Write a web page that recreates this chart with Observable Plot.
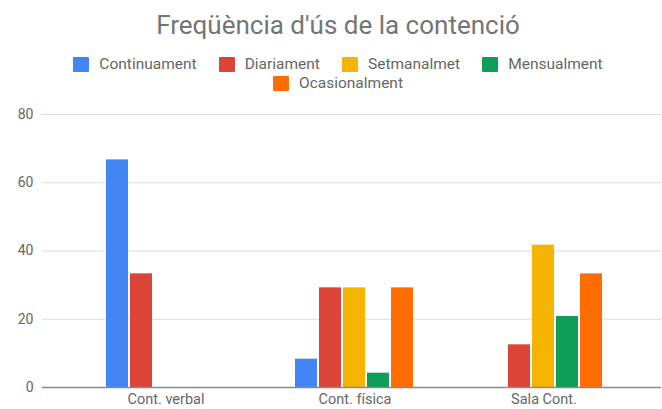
<!DOCTYPE html>
<html>
<head>
<meta charset="utf-8">
<script src="https://cdn.jsdelivr.net/npm/d3@7"></script>
<script src="https://cdn.jsdelivr.net/npm/@observablehq/plot@0.6"></script>
<style>
  html, body { margin: 0; padding: 0; background: #fff; }
  #wrap { position: relative; width: 662px; height: 409px; overflow: hidden; font-family: Roboto, "Noto Sans", sans-serif; }
  #title { position: absolute; top: 9px; left: 14px; width: 648px; text-align: center; font-size: 26px; color: #757575; line-height: 32px; }
  #legend { position: absolute; top: 56px; left: 48px; width: 580px; display: flex; flex-wrap: wrap; justify-content: center; column-gap: 22px; row-gap: 3px; font-size: 15.5px; color: #666; }
  .item { display: flex; align-items: center; height: 16px; }
  .sw { width: 16px; height: 15px; margin-right: 10px; border-radius: 1px; }
  #chart { position: absolute; top: 100px; left: 0; }
</style>
</head>
<body>
<div id="wrap">
  <div id="title">Freqüència d'ús de la contenció</div>
  <div id="legend"></div>
  <div id="chart"></div>
</div>
<script>
const groups = ["Cont. verbal", "Cont. física", "Sala Cont."];
const series = ["Continuament", "Diariament", "Setmanalmet", "Mensualment", "Ocasionalment"];
const colors = ["#4285F4", "#DB4437", "#F4B400", "#0F9D58", "#FF6D00"];
const continuament = [66.7, 8.3, 0];
const diariament = [33.3, 29.2, 12.5];
const setmanalmet = [0, 29.2, 41.7];
const mensualment = [0, 4.2, 20.8];
const ocasionalment = [0, 29.2, 33.3];
const yTicks = [0, 20, 40, 60, 80];

const seriesValues = [continuament, diariament, setmanalmet, mensualment, ocasionalment];
const data = [];
groups.forEach((g, gi) => series.forEach((s, si) => data.push({group: g, series: s, value: seriesValues[si][gi]})));

const legend = document.getElementById("legend");
series.forEach((s, i) => {
  const it = document.createElement("div");
  it.className = "item";
  it.innerHTML = `<span class="sw" style="background:${colors[i]}"></span><span>${s}</span>`;
  legend.appendChild(it);
});

// grid and baseline rules per facet; outer facets extend to the chart-area edges
const ruleMarks = [];
groups.forEach((g, gi) => {
  const insets = {
    insetLeft: gi === 0 ? -29 : 0,
    insetRight: gi === groups.length - 1 ? -23 : 0
  };
  ruleMarks.push(
    Plot.ruleY(yTicks.filter(d => d > 0).map(y => ({y, group: g})), {y: "y", fx: "group", stroke: "#dcdcdc", ...insets})
  );
});
const baseMarks = groups.map((g, gi) =>
  Plot.ruleY([{y: 0, group: g}], {y: "y", fx: "group", stroke: "#8a8a8a", strokeWidth: 1.6,
    insetLeft: gi === 0 ? -29 : 0, insetRight: gi === groups.length - 1 ? -23 : 0})
);

const chart = Plot.plot({
  width: 662,
  height: 309,
  marginLeft: 40,
  marginRight: 0,
  marginTop: 14,
  marginBottom: 22,
  style: {fontFamily: "Roboto, 'Noto Sans', sans-serif", background: "white", color: "#666"},
  fx: {domain: groups, paddingInner: 0, paddingOuter: 0.137, align: 0.56, label: null, axis: null},
  x: {domain: series, paddingInner: 0.08, paddingOuter: 1.34, axis: null},
  y: {domain: [0, 80], label: null, axis: null},
  color: {domain: series, range: colors},
  marks: [
    ...ruleMarks,
    Plot.axisY({ticks: yTicks, tickSize: 0, tickPadding: 38, fontSize: 14, label: null}),
    Plot.barY(data.filter(d => d.value > 0), {fx: "group", x: "series", y: "value", fill: "series"}),
    ...baseMarks,
    Plot.axisFx({anchor: "bottom", tickSize: 0, tickPadding: 6, fontSize: 14.5, label: null})
  ]
});
document.getElementById("chart").appendChild(chart);
</script>
</body>
</html>
